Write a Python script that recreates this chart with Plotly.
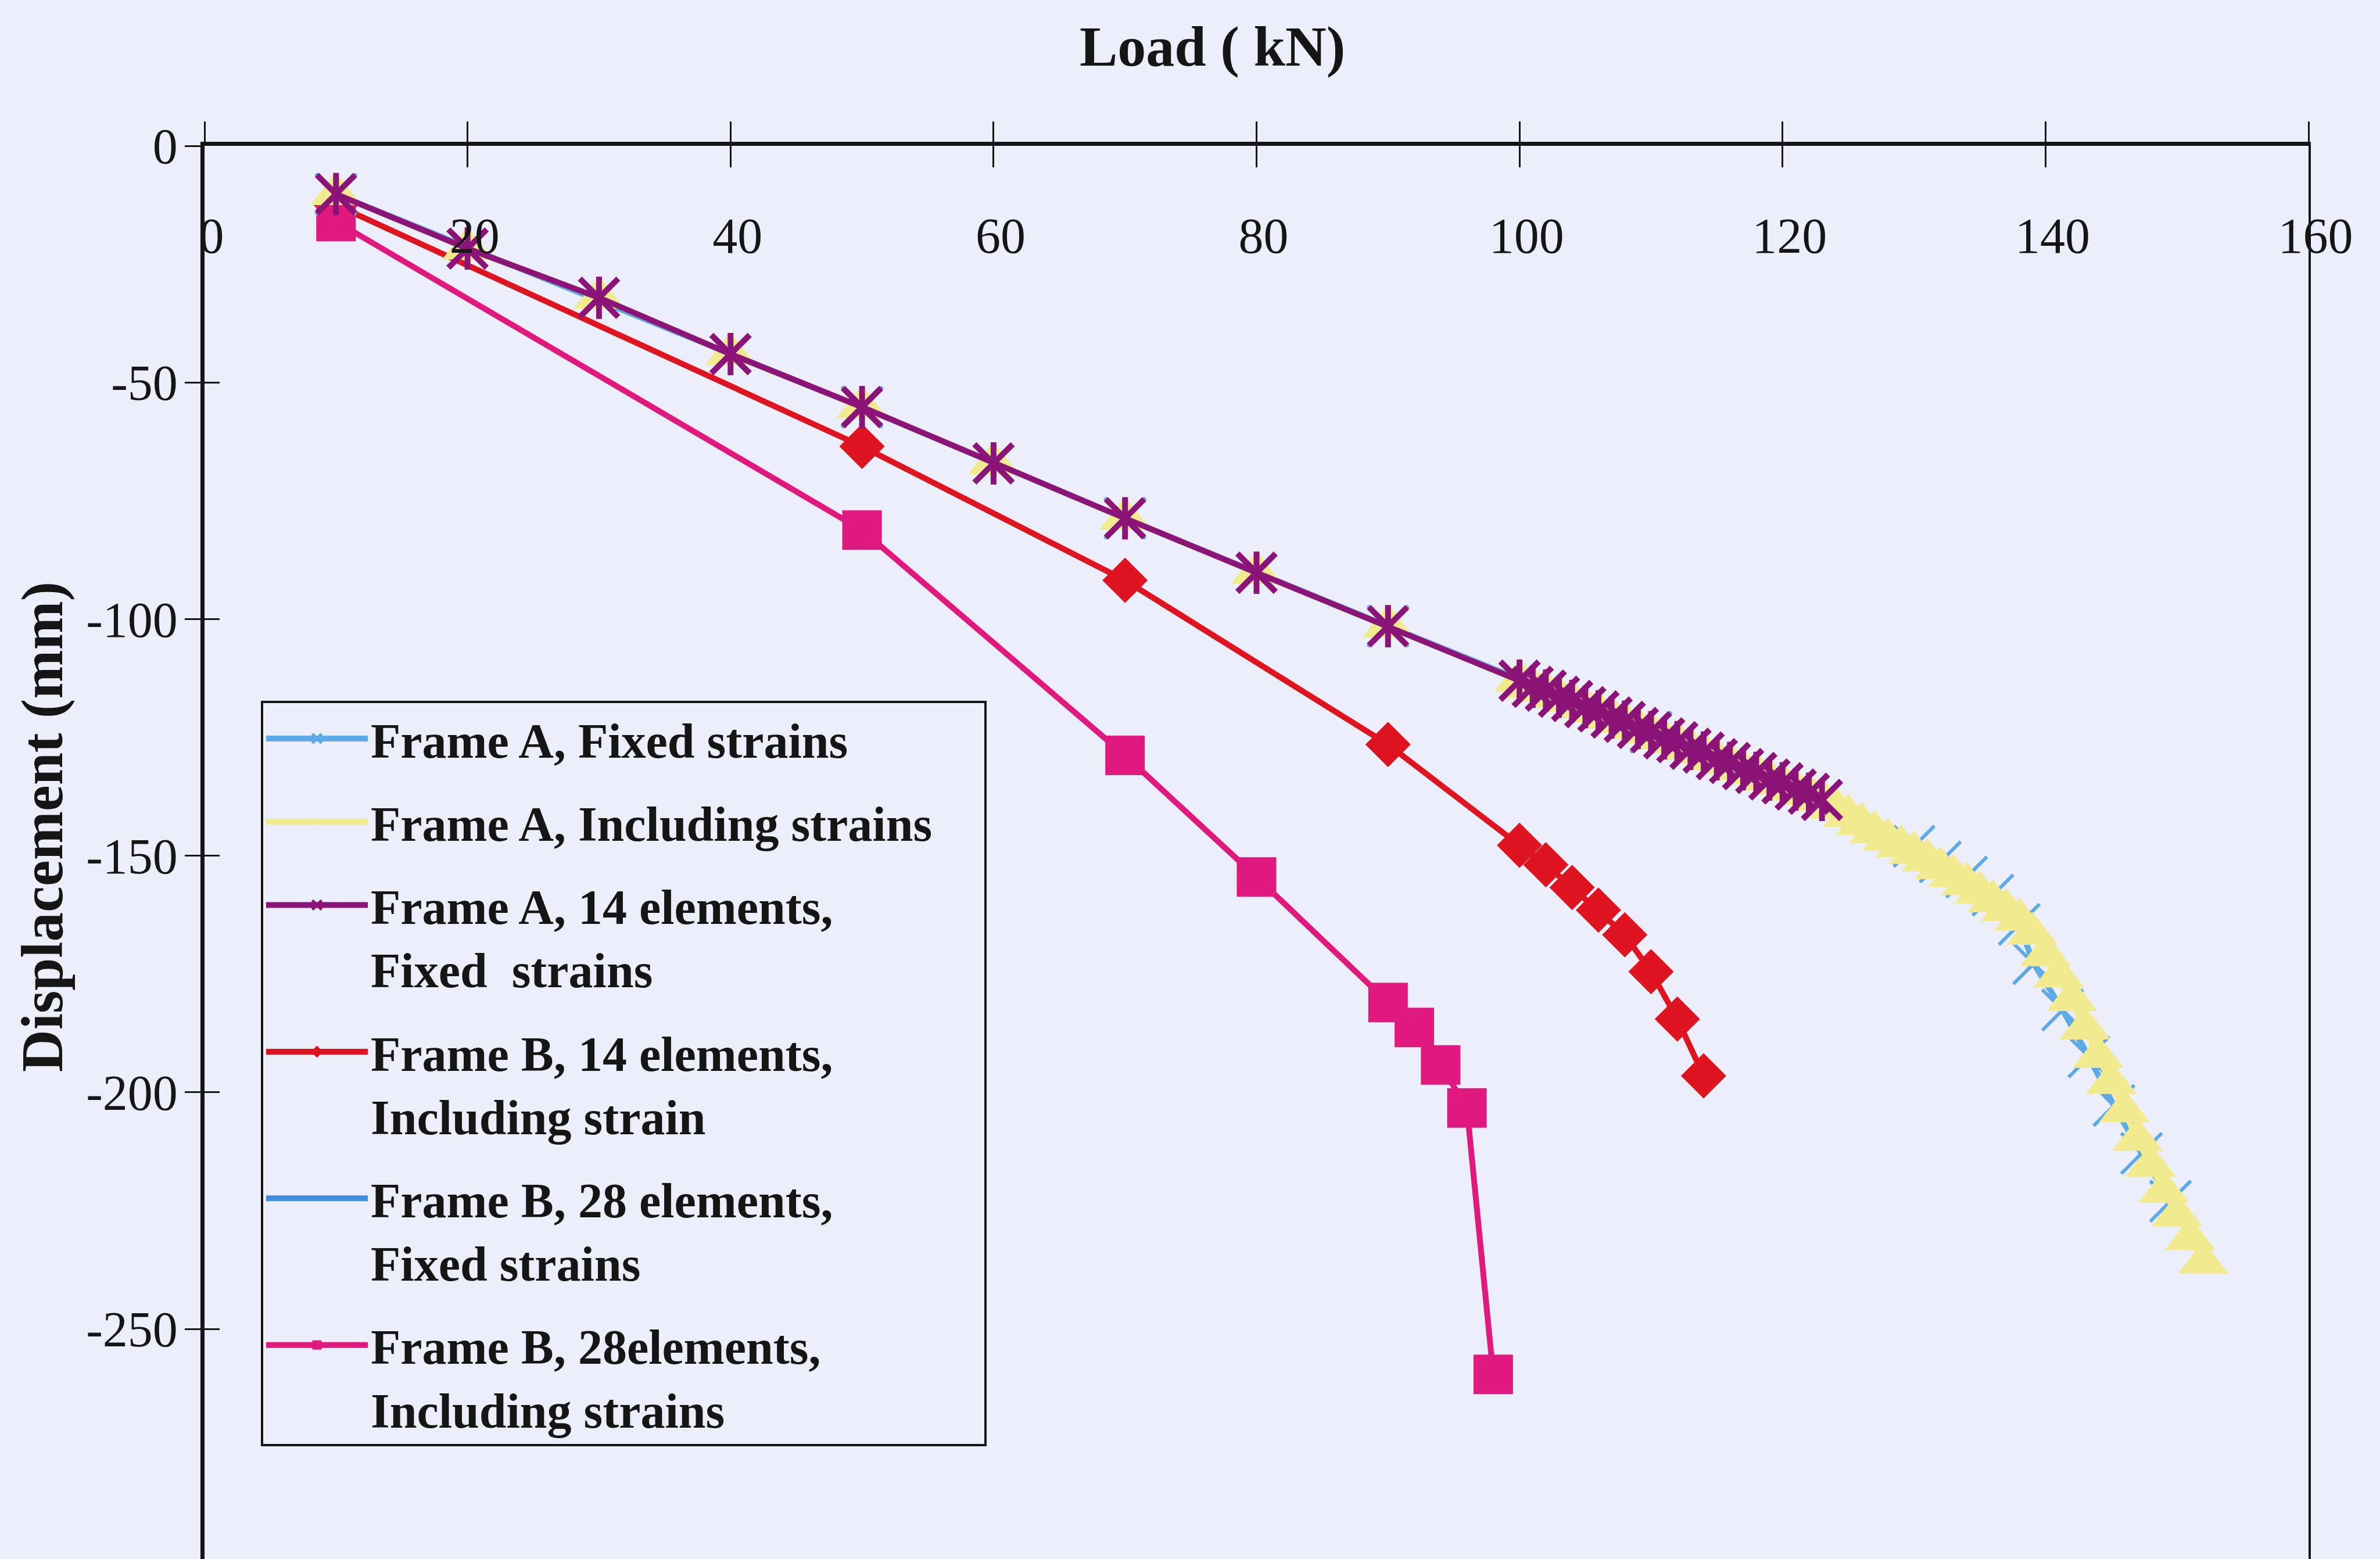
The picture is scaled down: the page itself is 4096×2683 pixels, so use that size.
import plotly.graph_objects as go

# ---------------- data ----------------
load_ticks = [0, 20, 40, 60, 80, 100, 120, 140, 160]
load_tick_text = ["0", "20", "40", "60", "80", "100", "120", "140", "160"]
disp_ticks = [0, -50, -100, -150, -200, -250]
disp_tick_text = ["0", "-50", "-100", "-150", "-200", "-250"]

# Frame A, Fixed strains (light blue, x markers)
a_fixed_load = [10, 50, 70, 90, 110, 130, 132, 134, 136, 138, 139.1, 141.3, 143.3, 145.2, 147.3, 149.5]
a_fixed_disp = [-10.2, -55.2, -78.7, -101.5, -123.9, -148.0, -151.3, -154.5, -158.3, -164.5,
                -172.8, -182.6, -192.5, -202.8, -212.9, -223.0]

# Frame A, Including strains (yellow, triangles)
a_incl_load = [10, 20, 30, 40, 50, 60, 70, 80, 90,
               100, 101, 102, 103, 104, 105, 106, 107, 108, 109, 110, 111,
               112, 113, 114, 115, 116, 117, 118, 119, 120, 121, 122, 123,
               124, 125, 126, 127, 128, 129, 130, 131, 132, 133, 134, 135, 136, 137,
               138, 139, 140, 141, 142, 143, 144, 145, 146, 147, 148, 149, 150, 151, 152]
a_incl_disp = [-10.2, -21.7, -32.1, -44.0, -55.2, -67.1, -78.7, -90.2, -101.5,
               -113.0, -114.3, -115.1, -116.4, -117.3, -118.6, -119.5, -120.8, -121.7, -123.0, -123.9, -125.2,
               -126.0, -127.4, -128.2, -129.6, -130.4, -131.7, -132.5, -133.9, -134.7, -136.0, -136.9, -138.2,
               -139.8, -141.6, -143.3, -145.0, -146.6, -148.0, -149.4, -151.0, -152.6, -154.3, -156.0, -157.8,
               -159.6, -161.5, -163.5, -166.5, -171.0, -175.5, -180.5, -186.5, -192.5, -198.0, -204.0, -210.0,
               -215.5, -221.0, -226.0, -231.0, -236.0]

# Frame A, 14 elements, Fixed strains (purple, star markers)
a14_fixed_load = [10, 20, 30, 40, 50, 60, 70, 80, 90,
                  100, 101, 102, 103, 104, 105, 106, 107, 108, 109, 110, 111,
                  112, 113, 114, 115, 116, 117, 118, 119, 120, 121, 122, 123]
a14_fixed_disp = [-10.2, -21.7, -32.1, -44.0, -55.2, -67.1, -78.7, -90.2, -101.5,
                  -113.0, -114.3, -115.1, -116.4, -117.3, -118.6, -119.5, -120.8, -121.7, -123.0, -123.9, -125.2,
                  -126.0, -127.4, -128.2, -129.6, -130.4, -131.7, -132.5, -133.9, -134.7, -136.0, -136.9, -138.2]

# Frame B, 14 elements, Including strain (red, diamonds)
b14_incl_load = [10, 50, 70, 90, 100, 102, 104, 106, 108, 110, 112, 114]
b14_incl_disp = [-12.5, -63.5, -91.8, -126.5, -147.8, -151.9, -156.7, -161.5, -166.7, -174.5, -184.5, -196.5]

# Frame B, 28 elements, Fixed strains (blue, dash markers) - no visible points in the plot
b28_fixed_load = [None]
b28_fixed_disp = [None]

# Frame B, 28elements, Including strains (pink, squares)
b28_incl_load = [10, 50, 70, 80, 90, 92, 94, 96, 98]
b28_incl_disp = [-16.0, -81.2, -128.8, -154.5, -181.0, -186.3, -194.2, -203.3, -259.6]

names = ["Frame A, Fixed strains",
         "Frame A, Including strains\u00a0\u00a0\u00a0\u00a0",
         "Frame A, 14 elements,<br>Fixed  strains",
         "Frame B, 14 elements,<br>Including strain",
         "Frame B, 28 elements,<br>Fixed strains",
         "Frame B, 28elements,<br>Including strains"]

# ---------------- styling ----------------
W, H = 4096, 2683
ML, MR, MT, MB = 352, 123, 251, 0
PW, PH = W - ML - MR, H - MT - MB
BG = "#ECEEFA"
INK = "#151515"
SERIF = "Liberation Serif"
Y_RANGE = [-298.6, 0]
X_RANGE = [0, 160]

C_LBLUE = "#5CAAE6"
C_YELL = "#F2EA8E"
C_PURP = "#8A1478"
C_RED = "#DE1421"
C_BLUE = "#3F8FDC"
C_PINK = "#E0197F"
LW = 10


def px_to_paper_x(px):
    return (px - ML) / PW


def px_to_paper_y(py):
    return (H - MB - py) / PH


fig = go.Figure()

# drawing order: red, blue, pink, light blue, yellow, purple (purple on top)
fig.add_trace(go.Scatter(
    x=b14_incl_load, y=b14_incl_disp, name=names[3], legendrank=4, legendgroup="g4",
    mode="lines+markers", line=dict(color=C_RED, width=LW),
    marker=dict(symbol="diamond", size=60, color=C_RED, line=dict(width=0))))

fig.add_trace(go.Scatter(
    x=b28_fixed_load, y=b28_fixed_disp, name=names[4], legendrank=5, legendgroup="g5",
    mode="lines+markers", line=dict(color=C_BLUE, width=LW),
    marker=dict(symbol="line-ew-open", size=40, color=C_BLUE, line=dict(width=8, color=C_BLUE))))

fig.add_trace(go.Scatter(
    x=b28_incl_load, y=b28_incl_disp, name=names[5], legendrank=6, legendgroup="g6",
    mode="lines+markers", line=dict(color=C_PINK, width=LW),
    marker=dict(symbol="square", size=68, color=C_PINK, line=dict(width=0))))

fig.add_trace(go.Scatter(
    x=a_fixed_load, y=a_fixed_disp, name=names[0], legendrank=1, legendgroup="g1",
    mode="lines+markers", line=dict(color=C_LBLUE, width=LW),
    marker=dict(symbol="x-thin-open", size=70, color=C_LBLUE, line=dict(width=6, color=C_LBLUE))))

fig.add_trace(go.Scatter(
    x=a_incl_load, y=a_incl_disp, name=names[1], legendrank=2, legendgroup="g2",
    mode="lines+markers", line=dict(color=C_YELL, width=LW),
    marker=dict(symbol="triangle-up", size=76, color=C_YELL, line=dict(width=0))))

fig.add_trace(go.Scatter(
    x=a14_fixed_load, y=a14_fixed_disp, name=names[2], legendrank=3, legendgroup="g3",
    mode="lines+markers", line=dict(color=C_PURP, width=LW),
    marker=dict(symbol="x-thin-open", size=66, color=C_PURP, line=dict(width=10, color=C_PURP))))
fig.add_trace(go.Scatter(
    x=a14_fixed_load, y=a14_fixed_disp, name=names[2], legendgroup="g3", showlegend=False,
    mode="markers",
    marker=dict(symbol="line-ns-open", size=52, color=C_PURP, line=dict(width=10, color=C_PURP)),
    hoverinfo="skip"))

# carriers for the overlay axes (inner tick halves and the right-hand frame line)
for xa, ya in (("x2", "y"), ("x", "y2"), ("x", "y3")):
    fig.add_trace(go.Scatter(x=[], y=[], xaxis=xa, yaxis=ya, mode="markers",
                             showlegend=False, hoverinfo="skip"))

tick_font = dict(family=SERIF, size=86, color=INK)

fig.update_layout(
    width=W, height=H,
    margin=dict(l=ML, r=MR, t=MT, b=MB, pad=0),
    paper_bgcolor=BG, plot_bgcolor=BG,
    showlegend=True,
    xaxis=dict(
        side="top", range=X_RANGE, tickmode="array", tickvals=load_ticks, ticktext=load_tick_text,
        ticks="outside", ticklen=35, tickwidth=3, tickcolor=INK,
        showline=True, linewidth=7, linecolor=INK,
        ticklabelposition="inside", ticklabeloverflow="allow", ticklabelstandoff=138,
        ticklabelshift=12, tickfont=tick_font,
        showgrid=False, zeroline=False, anchor="y"),
    xaxis2=dict(
        overlaying="x", side="top", range=X_RANGE, tickmode="array", tickvals=load_ticks,
        ticks="inside", ticklen=37, tickwidth=3, tickcolor=INK,
        showticklabels=False, showline=False, showgrid=False, zeroline=False, anchor="y"),
    yaxis=dict(
        range=Y_RANGE, tickmode="array", tickvals=disp_ticks, ticktext=disp_tick_text,
        ticks="outside", ticklen=27, tickwidth=3, tickcolor=INK,
        showline=True, linewidth=7, linecolor=INK,
        ticklabelstandoff=-5, tickfont=tick_font,
        showgrid=False, zeroline=False, anchor="x"),
    yaxis2=dict(
        overlaying="y", side="left", range=Y_RANGE, tickmode="array", tickvals=disp_ticks,
        ticks="inside", ticklen=26, tickwidth=3, tickcolor=INK,
        showticklabels=False, showline=False, showgrid=False, zeroline=False, anchor="x"),
    yaxis3=dict(
        overlaying="y", side="right", range=Y_RANGE,
        ticks="", showticklabels=False, showline=True, linewidth=4, linecolor=INK,
        showgrid=False, zeroline=False, anchor="x"),
    legend=dict(
        x=px_to_paper_x(449), y=px_to_paper_y(1206), xanchor="left", yanchor="top",
        bgcolor="rgba(0,0,0,0)", bordercolor=INK, borderwidth=4,
        font=dict(family=SERIF, size=84, color=INK, weight="bold"),
        itemwidth=175, valign="top", tracegroupgap=31, traceorder="grouped"),
    annotations=[
        dict(text="Load ( kN)", x=px_to_paper_x(2086), y=px_to_paper_y(80), xref="paper", yref="paper",
             xanchor="center", yanchor="middle", showarrow=False,
             font=dict(family=SERIF, size=98, color=INK, weight="bold")),
        dict(text="Displacement (mm)", x=px_to_paper_x(73), y=px_to_paper_y(1423), xref="paper", yref="paper",
             xanchor="center", yanchor="middle", showarrow=False, textangle=-90,
             font=dict(family=SERIF, size=101, color=INK, weight="bold")),
    ],
)

fig.write_html("out.html")
